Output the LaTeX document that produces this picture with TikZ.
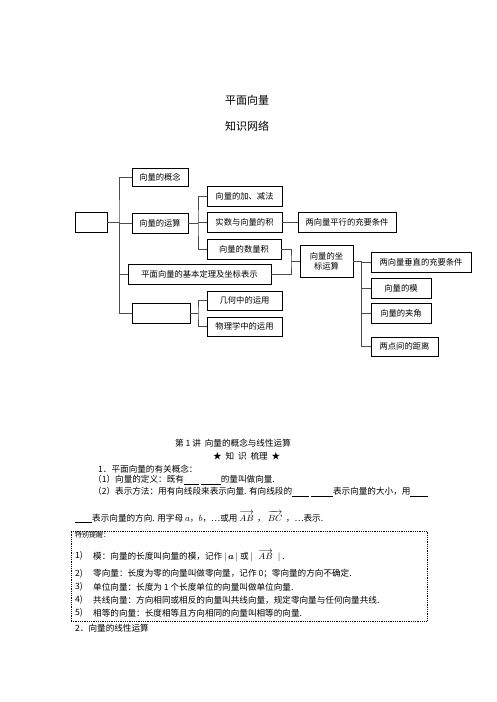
\documentclass[tikz,border=0pt]{standalone}
\usepackage{amsmath}
\usepackage{fontspec}
\setmainfont{Noto Sans CJK SC}
\newcommand{\bxfont}{\fontsize{8.3}{10}\selectfont}
\newcommand{\txfont}{\fontsize{8.6}{10}\selectfont}
\newcommand{\ttlfont}{\fontsize{11}{13}\selectfont}
\newcommand{\smfont}{\fontsize{7}{8}\selectfont}
\newcommand{\blankline}[1]{\rule[-1.5pt]{#1}{0.6pt}}
\begin{document}
\begin{tikzpicture}[x=1pt,y=-1pt,
  bx/.style={draw, line width=0.8pt, inner sep=0pt, font=\bxfont, align=center},
  conn/.style={draw=black!70, line width=0.9pt},
  txt/.style={anchor=west, inner sep=0pt, font=\txfont}]
\useasboundingbox (0,0) rectangle (496,702);
\fill[white] (0,0) rectangle (496,702);
% titles
\node[font=\ttlfont, inner sep=0pt] (t1) at (247,100) {平面向量};
\node[font=\ttlfont, inner sep=0pt] (t2) at (247,126) {知识网络};
% boxes
\node[bx, minimum width=32pt, minimum height=20pt] (b0) at (91,222) {};
\node[bx, minimum width=56pt, minimum height=18pt] (gn) at (160,177) {向量的概念};
\node[bx, minimum width=56pt, minimum height=20pt] (ys) at (160,223) {向量的运算};
\node[bx, minimum width=75pt, minimum height=20pt] (jj) at (244.5,196) {向量的加、减法};
\node[bx, minimum width=75pt, minimum height=20pt] (sh) at (244.5,222) {实数与向量的积};
\node[bx, minimum width=98pt, minimum height=20pt] (px) at (347,222) {两向量平行的充要条件};
\node[bx, minimum width=74pt, minimum height=20pt] (sl) at (244,249) {向量的数量积};
\node[bx, minimum width=143pt, minimum height=20pt] (dl) at (199.5,274) {平面向量的基本定理及坐标表示};
\node[bx, minimum width=53pt, minimum height=32pt] (zb) at (326.5,261) {向量的坐\\标运算};
\node[bx, minimum width=100pt, minimum height=20pt] (cz) at (421,262) {两向量垂直的充要条件};
\node[bx, minimum width=60pt, minimum height=20pt] (mo) at (401,288) {向量的模};
\node[bx, minimum width=60pt, minimum height=20pt] (jia) at (401,313) {向量的夹角};
\node[bx, minimum width=67pt, minimum height=19pt] (jl) at (404.5,346.5) {两点间的距离};
\node[bx, minimum width=58pt, minimum height=20pt] (b1) at (161,313) {};
\node[bx, minimum width=75pt, minimum height=19pt] (jh) at (244.5,300.5) {几何中的运用};
\node[bx, minimum width=75pt, minimum height=19pt] (wl) at (244.5,326.5) {物理学中的运用};
% junctions
\coordinate (k0) at (119,222);
\coordinate (k1) at (198,223);
\coordinate (k2) at (291,261);
\coordinate (k3) at (361,261);
\coordinate (k4) at (198,313);
% connectors
\draw[conn] (b0.east) -- (k0);
\draw[conn] (gn.west) -| (k0) |- (b1.west);
\draw[conn] (k0) |- (ys.west);
\draw[conn] (k0) |- (dl.west);
\draw[conn] (ys.east) -- (k1);
\draw[conn] (jj.west) -| (k1) |- (sl.west);
\draw[conn] (k1) |- (sh.west);
\draw[conn] (sh.east) -- (px.west);
\draw[conn] (sl.east) -| (k2) |- (dl.east);
\draw[conn] (k2) -- (zb.west);
\draw[conn] (zb.east) -- (k3);
\draw[conn] (cz.west) -| (k3) |- (jl.west);
\draw[conn] (k3) |- (mo.west);
\draw[conn] (k3) |- (jia.west);
\draw[conn] (b1.east) -- (k4);
\draw[conn] (jh.west) -| (k4) |- (wl.west);
% text section
\node[txt] (h1) at (175,443) {第 1 讲\ \ 向量的概念与线性运算};
\node[txt] (h2) at (213,456) {★\ \ 知\ \ 识\ \ 梳理\ \ ★};
\node[txt] (l1) at (98,469) {1．平面向量的有关概念：};
\node[txt] (l2) at (93,480) {（1）向量的定义：既有\blankline{15pt}\ \blankline{20pt}的量叫做向量.};
\node[txt] (l3) at (93,492) {（2）表示方法：用有向线段来表示向量. 有向线段的\blankline{17pt}\ \blankline{22pt}表示向量的大小，用\blankline{18pt}};
\node[txt] (l4) at (75,517) {\blankline{17pt}表示向量的方向. 用字母 $a$，$b$，…或用\ $\overrightarrow{AB}\,$\ ，\ $\overrightarrow{BC}\,$\ ，…表示.};
\node[draw, densely dotted, line width=0.8pt, minimum width=356pt, minimum height=90pt, inner sep=0pt] (tx) at (249,576) {};
\node[txt, font=\smfont] (r0) at (75,535) {特别提醒：};
\node[txt] (n1) at (75,556) {1)};
\node[txt] (r1) at (93,556) {模：向量的长度叫向量的模，记作 $|\,\boldsymbol{a}\,|$ 或 $|\;\;\overrightarrow{AB}\;\;|$ .};
\node[txt] (n2) at (75,574) {2)};
\node[txt] (r2) at (93,574) {零向量：长度为零的向量叫做零向量，记作 0；零向量的方向不确定.};
\node[txt] (n3) at (75,587) {3)};
\node[txt] (r3) at (93,587) {单位向量：长度为 1 个长度单位的向量叫做单位向量.};
\node[txt] (n4) at (75,600) {4)};
\node[txt] (r4) at (93,600) {共线向量：方向相同或相反的向量叫共线向量，规定零向量与任何向量共线.};
\node[txt] (n5) at (75,613) {5)};
\node[txt] (r5) at (93,613) {相等的向量：长度相等且方向相同的向量叫相等的向量.};
\node[txt] (l5) at (75,628) {2．向量的线性运算};
\end{tikzpicture}
\end{document}
